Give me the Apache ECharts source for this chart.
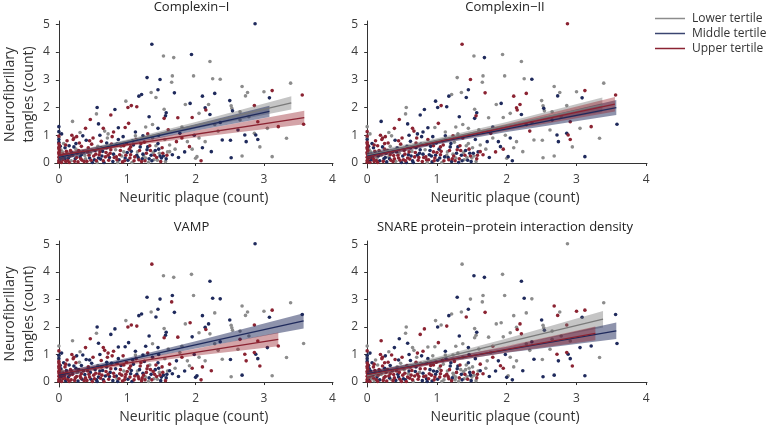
<!DOCTYPE html>
<html>
<head>
<meta charset="utf-8">
<script src="https://cdn.jsdelivr.net/npm/echarts@6/dist/echarts.min.js"></script>
<style>
  html, body { margin: 0; padding: 0; background: #fff; }
  #chart { width: 766px; height: 425px; }
</style>
</head>
<body>
<div id="chart"></div>
<script>
// titles and groups
const panelTitles = ['Complexin\u2212I', 'Complexin\u2212II', 'VAMP', 'SNARE protein\u2212protein interaction density'];
const tertileNames = ['Lower tertile', 'Middle tertile', 'Upper tertile'];
const tertileCodes = ['L', 'M', 'U'];
const xTicks = [0, 1, 2, 3, 4];
const yTicks = [0, 1, 2, 3, 4, 5];

// [neuritic plaque, tangles, tertile in each panel (Complexin-I, Complexin-II, VAMP, SNARE)]
const sparsePoints = [
  [2.87, 5.02, 'MUML'], [1.36, 4.28, 'MUUL'], [1.53, 3.86, 'LLLM'], [1.68, 3.80, 'LMLM'],
  [1.94, 3.91, 'MLLL'], [2.21, 3.66, 'LLMM'], [1.29, 3.08, 'MLMM'], [1.48, 3.01, 'MUML'],
  [1.66, 3.14, 'LLML'], [1.65, 2.91, 'LLUL'], [1.97, 3.14, 'LLLL'], [2.25, 3.04, 'LLMM'],
  [2.36, 3.02, 'LMML'], [2.10, 2.41, 'MUML'], [2.28, 2.51, 'MULL'], [2.68, 2.76, 'LLLU'],
  [2.76, 2.54, 'LLLL'], [2.73, 2.42, 'LMLU'], [3.00, 2.57, 'LLLU'], [3.12, 2.61, 'UUUU'],
  [3.39, 2.88, 'LLLL'], [3.56, 2.45, 'UUMM'], [3.08, 2.35, 'MMMM'], [2.50, 2.25, 'MLMM'],
  [2.52, 2.06, 'LLLL'], [2.19, 2.11, 'LUMU'], [2.14, 1.99, 'MUML'], [2.15, 1.91, 'UUUU'],
  [1.92, 2.15, 'MMUL'], [2.21, 1.75, 'MMLU'], [1.95, 1.64, 'ULML'], [2.54, 1.88, 'MLLM'],
  [2.86, 2.07, 'ULUU'], [2.91, 1.49, 'UUUL'], [3.05, 1.25, 'LLMM'], [3.21, 1.31, 'UUUM'],
  [3.58, 1.40, 'UMLM'], [3.33, 0.89, 'LLLL'], [3.12, 0.23, 'LMLM'], [2.94, 0.58, 'LLUU'],
  [2.91, 0.85, 'MUMM'], [2.88, 1.01, 'MUMM'], [2.86, 1.07, 'LMUU'], [2.72, 1.01, 'MMUU'],
  [2.74, 0.77, 'MMUM'], [2.62, 1.19, 'MLLL'], [2.52, 0.19, 'MLLM'], [2.68, 0.25, 'LLMM'],
  [2.51, 0.82, 'MLML'], [2.39, 0.83, 'MLLM'], [2.33, 1.15, 'LULL'], [2.23, 0.41, 'MLUM'],
  [2.08, 0.08, 'UMUM'], [2.02, 0.23, 'LMML'], [2.14, 0.77, 'LLLL'], [2.28, 1.39, 'LMLL'],
  [2.65, 1.55, 'LMUL'], [2.36, 1.46, 'MMMM'], [1.88, 0.77, 'LMLM'], [1.77, 1.07, 'MULL'],
  [1.72, 0.77, 'UMML'], [1.62, 0.41, 'LUMM'], [1.91, 0.59, 'UMLU'], [2.00, 0.17, 'LLMM'],
  [1.85, 2.11, 'LLLL'], [1.69, 2.53, 'MUMU'], [1.45, 2.64, 'MMMM'], [1.42, 2.36, 'LMMU'],
  [1.35, 2.54, 'LLLL'], [1.17, 2.41, 'MMMM'], [1.21, 2.47, 'MLML'], [0.98, 2.23, 'LMLL'],
  [1.06, 2.07, 'UUUL'], [1.14, 2.03, 'UMUU'], [0.56, 2.00, 'MLML'], [0.55, 1.77, 'LLLL'],
  [0.76, 1.73, 'UMMU'], [0.82, 1.93, 'MMMU'], [1.01, 2.00, 'UMUM'], [0.20, 1.50, 'LMLU'],
  [0.46, 1.57, 'UUUM'], [0.39, 1.25, 'UUUM'], [0.31, 1.10, 'LLLL'], [0.00, 1.31, 'MLLL'],
  [0.00, 1.13, 'MUUU'], [0.00, 0.97, 'UUMM'], [0.04, 1.05, 'MLMM'], [1.54, 1.94, 'LLLL'],
  [1.57, 1.81, 'MMMM'], [2.05, 1.79, 'LLLL'], [2.53, 1.97, 'LMLL'], [2.65, 1.85, 'LLLL'],
  [2.78, 1.67, 'LLLL'], [1.32, 1.67, 'MMMM'], [1.37, 1.39, 'LLLL'], [1.56, 1.70, 'MUML'],
  [1.54, 1.61, 'UMUL'], [1.74, 1.63, 'ULUL'], [0.87, 1.27, 'MMML'], [0.58, 1.41, 'MMMM'],
  [0.65, 1.25, 'UUUL'], [0.97, 1.28, 'ULML'], [1.02, 1.43, 'UUMU'], [1.27, 1.30, 'LLML'],
  [1.45, 1.25, 'MLMM'], [1.60, 1.20, 'ULLL'], [1.80, 1.30, 'LMLU'], [0.72, 1.05, 'LMUU'],
  [1.12, 1.12, 'MLMM'], [1.23, 0.98, 'MUML']
];

const densePoints = [
  [0.00, 0.03, 'UUUU'], [0.00, 0.09, 'UUUU'], [0.01, 0.15, 'UUUU'], [0.00, 0.21, 'UUUU'],
  [0.01, 0.27, 'UUUU'], [0.00, 0.33, 'UUUU'], [0.00, 0.39, 'UUUU'], [0.01, 0.45, 'UUUU'],
  [0.00, 0.51, 'UUUU'], [0.00, 0.57, 'UUUU'], [0.01, 0.63, 'UUUU'], [0.00, 0.69, 'UUUU'],
  [0.00, 0.75, 'MUUM'], [0.02, 0.06, 'MMMM'], [0.02, 0.36, 'LLLL'], [0.02, 0.60, 'MMMM'],
  [0.03, 0.18, 'MUMU'], [0.03, 0.48, 'LLMM'], [0.00, 0.85, 'MMMM'], [0.00, 0.93, 'LLLL'],
  [0.06, 0.12, 'UMUL'], [0.08, 0.25, 'MUUM'], [0.05, 0.40, 'LLLM'], [0.09, 0.55, 'MMUU'],
  [0.10, 0.05, 'UUML'], [0.12, 0.33, 'LMUU'], [0.14, 0.18, 'MLMM'], [0.15, 0.62, 'MUML'],
  [0.17, 0.45, 'UUUU'], [0.18, 0.08, 'LMUM'], [0.20, 0.28, 'ULUL'], [0.21, 0.85, 'UUUU'],
  [0.22, 0.90, 'UUUU'], [0.24, 0.15, 'MMUU'], [0.25, 0.50, 'LUMM'], [0.27, 0.35, 'UMLU'],
  [0.28, 0.04, 'UMMU'], [0.30, 0.72, 'UULU'], [0.31, 0.22, 'MLUU'], [0.33, 0.60, 'ULMM'],
  [0.34, 0.10, 'UUML'], [0.36, 0.40, 'MMUU'], [0.38, 0.27, 'LUMU'], [0.40, 0.82, 'MMMU'],
  [0.41, 0.06, 'ULUM'], [0.43, 0.55, 'UMUL'], [0.45, 0.18, 'MUUM'], [0.46, 0.35, 'LLMU'],
  [0.48, 0.68, 'UUML'], [0.49, 0.02, 'MMUU'], [0.12, 0.80, 'UUUL'], [0.07, 0.70, 'LMMM'],
  [0.26, 0.95, 'UUMM'], [0.35, 0.98, 'MLMU'], [0.19, 1.00, 'UUUU'],
  [0.51, 0.25, 'UMUU'], [0.53, 0.45, 'MUML'], [0.55, 0.08, 'UUMM'], [0.57, 0.60, 'LMLU'],
  [0.59, 0.30, 'UMUL'], [0.61, 0.14, 'MUUU'], [0.62, 0.78, 'UMUM'], [0.64, 0.42, 'MLMU'],
  [0.66, 0.02, 'MMUL'], [0.68, 0.22, 'UUMU'], [0.70, 0.55, 'MMMM'], [0.71, 0.90, 'LUUL'],
  [0.73, 0.10, 'UUUU'], [0.75, 0.35, 'UMML'], [0.77, 0.68, 'UMMU'], [0.79, 0.05, 'MUMM'],
  [0.81, 0.20, 'UUUU'], [0.83, 0.48, 'LLMU'], [0.85, 0.12, 'UULM'], [0.87, 0.85, 'MUMM'],
  [0.89, 0.30, 'UMUU'], [0.91, 0.60, 'LMMU'], [0.93, 0.04, 'UMUM'], [0.95, 0.40, 'LULM'],
  [0.97, 0.18, 'MUUU'], [0.99, 0.72, 'UMUU'], [0.60, 1.00, 'MMMM'], [0.80, 1.12, 'UMUU'],
  [0.94, 0.95, 'MMUL'], [0.67, 1.15, 'LUUL'],
  [1.01, 0.10, 'MMMM'], [1.03, 0.50, 'UMUL'], [1.05, 0.30, 'UUMU'], [1.07, 0.02, 'LLML'],
  [1.09, 0.65, 'MUML'], [1.11, 0.22, 'UMUU'], [1.13, 0.85, 'UMUM'], [1.15, 0.40, 'LLLL'],
  [1.17, 0.12, 'UUUU'], [1.19, 0.58, 'MMUM'], [1.21, 0.05, 'UMUU'], [1.23, 0.32, 'MLML'],
  [1.25, 0.75, 'ULMU'], [1.27, 0.18, 'LLLL'], [1.29, 0.48, 'MUUM'], [1.31, 0.02, 'LMLL'],
  [1.33, 0.62, 'UULU'], [1.35, 0.28, 'MMMM'], [1.37, 0.90, 'LUML'], [1.39, 0.12, 'LLLL'],
  [1.41, 0.45, 'MMML'], [1.43, 0.20, 'ULUL'], [1.45, 0.70, 'MLMM'], [1.47, 0.35, 'LMLM'],
  [1.49, 0.05, 'UMMM'], [1.51, 0.55, 'ULUL'], [1.53, 0.25, 'MLML'], [1.55, 0.85, 'LMLM'],
  [1.57, 0.15, 'MUMU'], [1.59, 0.40, 'LMLL'], [1.12, 0.98, 'LMLL'], [1.30, 1.05, 'ULUL'],
  [1.46, 1.00, 'MLMM'], [1.62, 0.65, 'LLUU'], [1.66, 0.30, 'MUMU'], [1.70, 0.50, 'LLLL'],
  [1.75, 0.20, 'MMMM'], [1.80, 0.90, 'ULUU'], [1.84, 0.40, 'MUMM'], [1.95, 0.50, 'LUUU'],
  [1.98, 1.00, 'MLMM'], [2.05, 0.90, 'LMLL'], [2.10, 0.55, 'MLUL'],
  [0.15, 0.02, 'UUUU'], [0.32, 0.15, 'UMUM'], [0.44, 0.28, 'UUUM'], [0.58, 0.18, 'MUMU'],
  [0.72, 0.28, 'UMUU'], [0.86, 0.02, 'LLMM'], [0.98, 0.28, 'UMUM'], [1.14, 0.28, 'MLMU'],
  [1.26, 0.08, 'UUUL'], [1.38, 0.38, 'LLUL'], [1.50, 0.18, 'MLML'], [0.22, 0.58, 'MMMU'],
  [0.50, 0.90, 'UUUU'], [0.78, 0.95, 'UMUM'], [1.08, 0.80, 'MUMU'], [1.42, 0.62, 'LLUL'],
  [0.04, 0.02, 'UUUU'], [0.05, 0.22, 'UMUU'], [0.07, 0.30, 'UUUM'], [0.09, 0.15, 'MUUU'],
  [0.11, 0.42, 'UUMU'], [0.13, 0.09, 'UUUU'], [0.16, 0.25, 'UMUU'], [0.19, 0.38, 'MUUM'],
  [0.23, 0.06, 'UUUU'], [0.26, 0.20, 'UMUU'], [0.29, 0.45, 'UUMU'], [0.33, 0.30, 'MUUU'],
  [0.37, 0.05, 'UUUU'], [0.39, 0.15, 'LUUU'], [0.42, 0.40, 'UMUU'], [0.47, 0.10, 'UUMU'],
  [0.52, 0.12, 'MUUM'], [0.54, 0.32, 'UUUU'], [0.56, 0.02, 'LMMU'], [0.60, 0.40, 'UUMM'],
  [0.63, 0.25, 'MMUU'], [0.65, 0.08, 'UMMU'], [0.69, 0.38, 'UUUM'], [0.74, 0.20, 'MUMU'],
  [0.76, 0.48, 'UMUU'], [0.80, 0.32, 'MMUM'], [0.84, 0.22, 'UUMU'], [0.88, 0.12, 'MUUU'],
  [0.90, 0.45, 'UMUM'], [0.92, 0.25, 'LMUU'], [0.96, 0.08, 'UUUU'], [1.00, 0.38, 'MUUM'],
  [1.04, 0.18, 'UMUU'], [1.06, 0.42, 'MUMU'], [1.10, 0.08, 'UUUL'], [1.16, 0.20, 'MMUU'],
  [1.18, 0.45, 'UUMU'], [1.22, 0.15, 'MUUM'], [1.24, 0.25, 'LUUL'], [1.28, 0.35, 'UMUU'],
  [1.32, 0.15, 'MUMU'], [1.34, 0.45, 'UUUL'], [1.36, 0.08, 'MMUM'], [1.40, 0.28, 'UUUU'],
  [1.44, 0.10, 'LMLU'], [1.48, 0.25, 'MUUM'], [1.52, 0.35, 'UMUU'], [1.56, 0.05, 'LLUL'],
  [1.58, 0.28, 'UUMU'], [1.46, 0.50, 'MUML'], [1.20, 0.70, 'UMUM'], [0.95, 0.62, 'UUUU'],
  [0.70, 0.72, 'MUMU'], [0.45, 0.80, 'UUMM'], [0.25, 0.70, 'MUUU'], [0.10, 0.65, 'UUUU'],
  [0.62, 0.55, 'UMUU'], [0.85, 0.68, 'MUUM'], [1.05, 0.58, 'UUUU'], [1.30, 0.58, 'MMUM']
];

// fitted lines per panel: [tertile, x start, y start, x end, y end]
const fitComplexinI = [['L', 0, 0.20, 3.40, 2.17], ['M', 0, 0.20, 3.08, 1.86], ['U', 0, 0.28, 3.59, 1.64]];
const fitComplexinII = [['L', 0, 0.28, 3.37, 2.10], ['M', 0, 0.25, 3.57, 2.00], ['U', 0, 0.22, 3.55, 2.12]];
const fitVamp = [['M', 0, 0.25, 3.58, 2.22], ['U', 0, 0.30, 3.21, 1.55]];
const fitSnare = [['L', 0, 0.22, 3.38, 2.28], ['M', 0, 0.30, 3.57, 1.86], ['U', 0, 0.27, 3.27, 1.77]];

// confidence bands per panel: [tertile, [[x, lower, upper], ...]]
const bandComplexinI = [
  ['L', [[0, 0.08, 0.32], [1, 0.71, 0.85], [2, 1.24, 1.48], [3.40, 1.93, 2.41]]],
  ['M', [[0, 0.09, 0.31], [1, 0.67, 0.81], [2, 1.16, 1.40], [3.08, 1.66, 2.06]]],
  ['U', [[0, 0.18, 0.38], [1, 0.60, 0.72], [2, 0.92, 1.16], [3.59, 1.40, 1.88]]]
];
const bandComplexinII = [
  ['L', [[0, 0.16, 0.40], [1, 0.75, 0.89], [2, 1.24, 1.48], [3.37, 1.84, 2.36]]],
  ['M', [[0, 0.14, 0.36], [1, 0.67, 0.81], [2, 1.12, 1.34], [3.57, 1.73, 2.27]]],
  ['U', [[0, 0.12, 0.32], [1, 0.69, 0.82], [2, 1.17, 1.41], [3.55, 1.86, 2.38]]]
];
const bandVamp = [
  ['M', [[0, 0.14, 0.36], [1, 0.73, 0.87], [2, 1.22, 1.48], [3.58, 1.94, 2.50]]],
  ['U', [[0, 0.20, 0.40], [1, 0.62, 0.76], [2, 0.95, 1.21], [3.21, 1.30, 1.80]]]
];
const bandSnare = [
  ['L', [[0, 0.10, 0.34], [1, 0.75, 0.91], [2, 1.30, 1.58], [3.38, 1.98, 2.58]]],
  ['M', [[0, 0.19, 0.41], [1, 0.67, 0.81], [2, 1.06, 1.28], [3.57, 1.56, 2.16]]],
  ['U', [[0, 0.16, 0.38], [1, 0.66, 0.80], [2, 1.07, 1.31], [3.27, 1.52, 2.02]]]
];

const panelFits = [fitComplexinI, fitComplexinII, fitVamp, fitSnare];
const panelBands = [bandComplexinI, bandComplexinII, bandVamp, bandSnare];

const pointColor = { L: '#8c8c8c', M: '#1f2a5c', U: '#8b2332' };
const lineColor = { L: '#7a7a7a', M: '#1f2a5c', U: '#8b2332' };
const bandColor = { L: 'rgba(117,117,117,0.42)', M: 'rgba(30,40,90,0.5)', U: 'rgba(148,27,37,0.4)' };

const allPoints = sparsePoints.concat(densePoints);
const font = '"Open Sans", "Noto Sans", sans-serif';

let myChart = echarts.init(document.getElementById('chart'), null, { renderer: 'canvas' });

// panel boxes
const grids = [
  { left: 50, top: 21, width: 283, height: 147 },
  { left: 363, top: 21, width: 284, height: 147 },
  { left: 50, top: 241, width: 283, height: 148 },
  { left: 363, top: 241, width: 284, height: 148 }
];

let xAxes = [], yAxes = [], series = [], graphics = [];
grids.forEach((g, i) => {
  xAxes.push({
    gridIndex: i, type: 'value', min: -0.06, max: 4.01,
    name: 'Neuritic plaque (count)', nameLocation: 'middle', nameGap: 23,
    nameTextStyle: { fontFamily: font, fontSize: 14, color: '#333' },
    axisLine: { lineStyle: { color: '#333', width: 1 } },
    axisTick: { show: true, length: 3, customValues: xTicks, lineStyle: { color: '#333' } },
    axisLabel: { customValues: xTicks, fontFamily: font, fontSize: 12, color: '#3d3d3d', margin: 6 },
    splitLine: { show: false }
  });
  yAxes.push({
    gridIndex: i, type: 'value', min: -0.18, max: 5.12,
    name: i % 2 === 0 ? 'Neurofibrillary\ntangles (count)' : '',
    nameLocation: 'middle', nameGap: 12, nameRotate: 90,
    nameTextStyle: { fontFamily: font, fontSize: 14, color: '#333', lineHeight: 19 },
    axisLine: { show: true, lineStyle: { color: '#333', width: 1 } },
    axisTick: { show: true, length: 3, customValues: yTicks, lineStyle: { color: '#333' } },
    axisLabel: { customValues: yTicks, fontFamily: font, fontSize: 12, color: '#3d3d3d', margin: 5 },
    splitLine: { show: false }
  });
  graphics.push({
    type: 'text', x: g.left + g.width / 2, y: g.top - 14, z: 10,
    style: { text: panelTitles[i], fontFamily: font, fontSize: 13, fill: '#222', textAlign: 'center', textVerticalAlign: 'middle' }
  });

  // scatter points by tertile
  tertileCodes.forEach((code, k) => {
    series.push({
      name: tertileNames[k], type: 'scatter', xAxisIndex: i, yAxisIndex: i,
      symbolSize: 3.6, z: 2, silent: true,
      itemStyle: { color: pointColor[code], opacity: 1 },
      data: allPoints.filter(p => p[2][i] === code).map(p => [p[0], p[1]])
    });
  });

  // confidence bands
  panelBands[i].forEach(b => {
    const code = b[0], pts = b[1];
    series.push({
      type: 'custom', xAxisIndex: i, yAxisIndex: i, z: 3, silent: true,
      data: pts.map(p => [p[0], p[1], p[2]]),
      encode: { x: 0, y: [1, 2] },
      renderItem: function (params, api) {
        if (params.dataIndex !== 0) return;
        const upper = pts.map(p => api.coord([p[0], p[2]]));
        const lower = pts.slice().reverse().map(p => api.coord([p[0], p[1]]));
        return { type: 'polygon', shape: { points: upper.concat(lower) }, style: { fill: bandColor[code] } };
      }
    });
  });

  // fitted lines
  panelFits[i].forEach(f => {
    series.push({
      type: 'line', xAxisIndex: i, yAxisIndex: i, z: 4, silent: true,
      showSymbol: false, symbol: 'none',
      lineStyle: { color: lineColor[f[0]], width: 1.3 },
      data: [[f[1], f[2]], [f[3], f[4]]]
    });
  });
});

let option = {
  backgroundColor: '#fff',
  animation: false,
  grid: grids,
  xAxis: xAxes,
  yAxis: yAxes,
  legend: {
    orient: 'vertical', left: 655, top: 11, padding: 0, itemGap: 0,
    itemWidth: 30, itemHeight: 1.5, selectedMode: false,
    textStyle: { fontFamily: font, fontSize: 12, color: '#333', lineHeight: 15, padding: [0, 0, 0, 2] },
    data: [
      { name: 'Lower tertile', icon: 'rect', itemStyle: { color: '#8c8c8c' } },
      { name: 'Middle tertile', icon: 'rect', itemStyle: { color: '#3a4570' } },
      { name: 'Upper tertile', icon: 'rect', itemStyle: { color: '#8b2332' } }
    ]
  },
  graphic: graphics,
  series: series
};

myChart.setOption(option, true);
</script>
</body>
</html>
